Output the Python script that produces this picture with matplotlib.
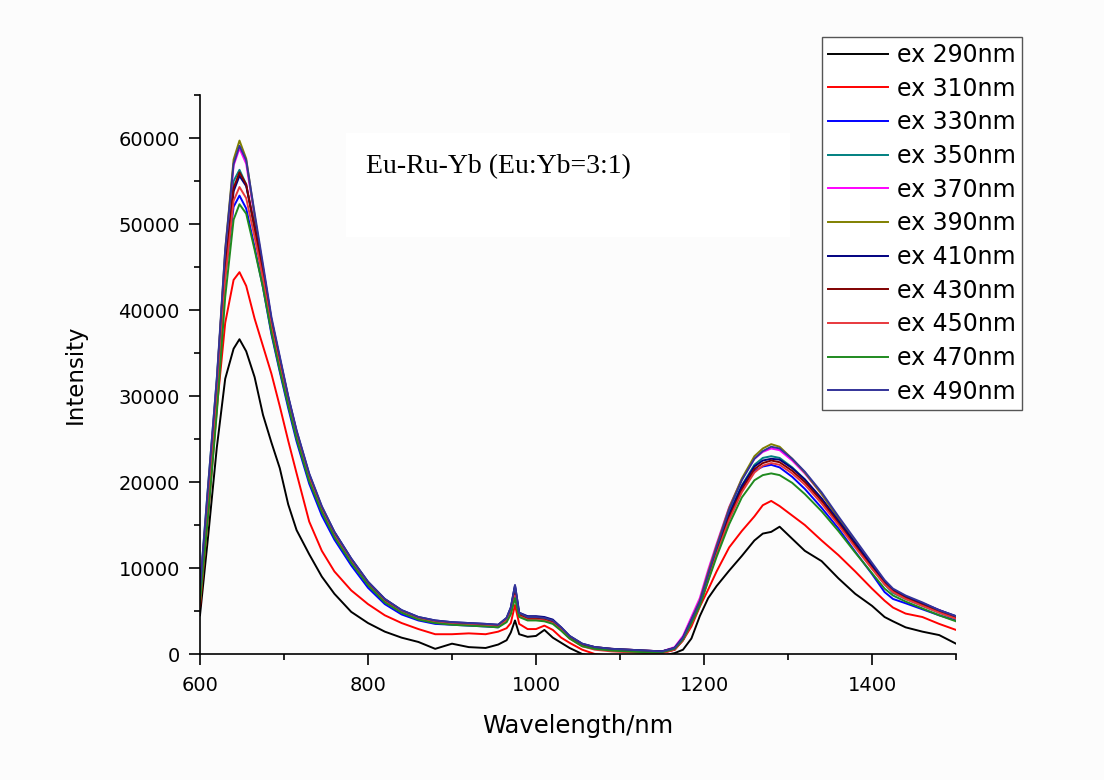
import matplotlib
matplotlib.use('Agg')
import matplotlib.pyplot as plt
import numpy as np
from matplotlib.ticker import MultipleLocator
from matplotlib.patches import Rectangle

# wavelength grid (nm)
wavelength = [600, 610, 620, 630, 640, 647, 655, 665, 675, 685,
              695, 705, 715, 730, 745, 760, 780, 800, 820, 840,
              860, 880, 900, 920, 940, 955, 965, 970, 975, 980,
              990, 1000, 1010, 1020, 1030, 1040, 1055, 1070, 1090, 1110,
              1130, 1150, 1165, 1175, 1185, 1195, 1205, 1215, 1230, 1245,
              1260, 1270, 1280, 1290, 1305, 1320, 1340, 1360, 1380, 1400,
              1415, 1425, 1440, 1460, 1480, 1500]

# intensities, in thousands
ex290 = [4.5, 14.0, 24.0, 32.0, 35.5, 36.6, 35.2, 32.2, 27.8, 24.6,
         21.6, 17.4, 14.4, 11.6, 9.0, 7.0, 4.9, 3.6, 2.6, 1.9,
         1.4, 0.6, 1.2, 0.8, 0.7, 1.1, 1.6, 2.5, 3.9, 2.3,
         2.0, 2.1, 2.8, 1.9, 1.3, 0.7, 0.0, -0.3, -0.3, -0.3,
         -0.3, -0.2, 0.1, 0.5, 1.8, 4.4, 6.5, 7.9, 9.7, 11.4,
         13.2, 14.0, 14.2, 14.8, 13.4, 12.0, 10.8, 8.8, 7.0, 5.6,
         4.3, 3.8, 3.1, 2.6, 2.2, 1.2]
ex310 = [5.5, 16.5, 28.5, 38.5, 43.5, 44.4, 42.8, 39.0, 35.8, 32.6,
         28.8, 24.8, 21.0, 15.4, 12.0, 9.6, 7.4, 5.8, 4.5, 3.6,
         2.9, 2.3, 2.3, 2.4, 2.3, 2.6, 3.0, 3.6, 5.7, 3.5,
         2.9, 2.9, 3.3, 2.8, 1.9, 1.3, 0.5, 0.0, -0.2, -0.2,
         -0.1, 0.1, 0.5, 1.6, 3.2, 5.5, 7.5, 9.6, 12.4, 14.3,
         16.0, 17.3, 17.8, 17.2, 16.1, 15.0, 13.2, 11.5, 9.6, 7.6,
         6.2, 5.4, 4.7, 4.3, 3.5, 2.8]
ex330 = [7.5, 19.0, 31.0, 44.0, 52.0, 53.3, 51.8, 47.3, 42.6, 37.2,
         32.8, 28.6, 24.7, 19.8, 16.1, 13.3, 10.3, 7.7, 5.8, 4.6,
         3.9, 3.5, 3.4, 3.3, 3.2, 3.1, 3.9, 5.2, 7.8, 4.5,
         4.1, 4.1, 4.0, 3.7, 2.9, 1.9, 1.0, 0.7, 0.5, 0.4,
         0.3, 0.3, 0.7, 1.9, 3.9, 6.0, 9.1, 12.1, 16.2, 19.3,
         21.3, 21.8, 22.0, 21.7, 20.6, 19.2, 17.0, 14.6, 11.9, 9.3,
         7.2, 6.4, 5.9, 5.2, 4.5, 3.9]
ex350 = [7.8, 20.0, 32.0, 46.0, 55.0, 56.3, 54.6, 49.3, 43.8, 38.2,
         33.6, 29.2, 25.3, 20.4, 16.7, 13.8, 10.8, 8.1, 6.1, 4.9,
         4.1, 3.7, 3.5, 3.4, 3.3, 3.2, 3.9, 4.9, 7.2, 4.5,
         4.1, 4.1, 4.0, 3.7, 2.9, 1.9, 1.0, 0.7, 0.5, 0.4,
         0.3, 0.3, 0.7, 1.9, 3.9, 6.0, 9.2, 12.2, 16.4, 19.6,
         22.0, 22.8, 23.0, 22.8, 21.7, 20.3, 18.0, 15.3, 12.6, 10.0,
         8.1, 7.1, 6.4, 5.6, 4.8, 4.1]
ex370 = [7.2, 19.5, 31.5, 46.5, 56.8, 58.8, 57.0, 50.8, 45.0, 38.9,
         34.3, 29.8, 25.8, 20.8, 17.0, 14.1, 11.0, 8.3, 6.3, 5.0,
         4.2, 3.8, 3.6, 3.5, 3.4, 3.3, 4.0, 5.0, 7.2, 4.6,
         4.2, 4.2, 4.1, 3.8, 3.0, 2.0, 1.1, 0.8, 0.6, 0.5,
         0.4, 0.3, 0.8, 2.1, 4.3, 6.5, 9.8, 12.8, 17.1, 20.3,
         22.7, 23.5, 23.9, 23.7, 22.5, 21.0, 18.6, 15.8, 13.0, 10.4,
         8.5, 7.5, 6.7, 5.9, 5.1, 4.3]
ex390 = [7.0, 19.5, 31.5, 47.0, 57.5, 59.7, 57.6, 51.0, 44.8, 38.6,
         34.0, 29.6, 25.6, 20.6, 16.9, 14.0, 10.9, 8.2, 6.2, 5.0,
         4.2, 3.8, 3.6, 3.5, 3.4, 3.3, 4.0, 5.0, 7.4, 4.6,
         4.2, 4.2, 4.1, 3.8, 3.0, 2.0, 1.1, 0.8, 0.6, 0.5,
         0.4, 0.3, 0.7, 1.9, 4.0, 6.2, 9.5, 12.6, 17.0, 20.4,
         23.0, 23.9, 24.4, 24.1, 22.7, 21.1, 18.6, 15.8, 13.0, 10.3,
         8.4, 7.4, 6.6, 5.8, 5.0, 4.3]
ex410 = [6.8, 19.0, 30.5, 44.5, 53.8, 55.6, 54.4, 49.8, 44.8, 38.9,
         34.4, 29.9, 25.9, 20.9, 17.1, 14.2, 11.1, 8.4, 6.4, 5.1,
         4.3, 3.9, 3.7, 3.6, 3.5, 3.4, 4.2, 5.4, 8.0, 4.8,
         4.4, 4.4, 4.3, 4.0, 3.1, 2.1, 1.2, 0.8, 0.6, 0.5,
         0.4, 0.3, 0.7, 1.9, 3.9, 5.9, 9.0, 12.0, 16.2, 19.5,
         21.8, 22.5, 22.7, 22.6, 21.6, 20.3, 18.1, 15.5, 12.9, 10.3,
         8.4, 7.5, 6.7, 5.9, 5.1, 4.4]
ex430 = [6.5, 18.5, 30.0, 44.5, 54.2, 56.0, 54.6, 49.6, 44.4, 38.6,
         34.0, 29.6, 25.6, 20.6, 16.9, 14.0, 10.9, 8.2, 6.2, 5.0,
         4.2, 3.8, 3.6, 3.5, 3.4, 3.3, 4.0, 5.0, 7.0, 4.5,
         4.1, 4.1, 4.0, 3.7, 2.9, 1.9, 1.0, 0.6, 0.4, 0.3,
         0.2, 0.2, 0.5, 1.6, 3.6, 5.7, 8.8, 11.8, 15.9, 19.1,
         21.5, 22.2, 22.5, 22.3, 21.3, 20.0, 17.8, 15.2, 12.6, 10.0,
         8.2, 7.3, 6.5, 5.7, 4.9, 4.2]
ex450 = [6.2, 18.0, 29.5, 43.5, 52.7, 54.3, 53.0, 48.5, 43.6, 38.0,
         33.5, 29.2, 25.3, 20.4, 16.7, 13.8, 10.8, 8.1, 6.1, 4.9,
         4.1, 3.7, 3.5, 3.4, 3.3, 3.2, 3.9, 4.8, 6.8, 4.4,
         4.0, 4.0, 3.9, 3.6, 2.8, 1.8, 0.9, 0.5, 0.3, 0.2,
         0.1, 0.1, 0.5, 1.6, 3.5, 5.6, 8.6, 11.6, 15.6, 18.8,
         21.1, 21.9, 22.2, 22.0, 21.0, 19.7, 17.5, 15.0, 12.4, 9.9,
         8.1, 7.2, 6.4, 5.6, 4.8, 4.1]
ex470 = [6.0, 16.5, 28.0, 41.5, 50.5, 52.3, 51.2, 47.0, 42.6, 37.4,
         33.0, 28.9, 25.0, 20.1, 16.5, 13.6, 10.6, 8.0, 6.0, 4.8,
         4.0, 3.6, 3.4, 3.3, 3.2, 3.1, 3.7, 4.6, 6.5, 4.3,
         3.9, 3.9, 3.8, 3.5, 2.7, 1.8, 0.9, 0.6, 0.4, 0.3,
         0.2, 0.2, 0.6, 1.7, 3.6, 5.6, 8.5, 11.3, 15.1, 18.2,
         20.2, 20.8, 21.0, 20.8, 19.9, 18.6, 16.6, 14.3, 11.8, 9.4,
         7.6, 6.8, 6.1, 5.3, 4.5, 3.8]
ex490 = [7.5, 20.0, 32.0, 47.0, 57.0, 59.1, 57.4, 51.3, 45.3, 39.2,
         34.6, 30.0, 26.0, 21.0, 17.2, 14.2, 11.1, 8.4, 6.4, 5.1,
         4.3, 3.9, 3.7, 3.6, 3.5, 3.4, 4.2, 5.4, 8.0, 4.8,
         4.3, 4.3, 4.2, 3.9, 3.1, 2.1, 1.2, 0.8, 0.6, 0.5,
         0.4, 0.3, 0.7, 1.9, 4.0, 6.1, 9.3, 12.4, 16.8, 20.2,
         22.7, 23.6, 24.1, 23.9, 22.7, 21.2, 18.8, 16.0, 13.3, 10.6,
         8.6, 7.6, 6.8, 6.0, 5.1, 4.4]

labels = ['ex 290nm', 'ex 310nm', 'ex 330nm', 'ex 350nm', 'ex 370nm', 'ex 390nm',
          'ex 410nm', 'ex 430nm', 'ex 450nm', 'ex 470nm', 'ex 490nm']
series = [ex290, ex310, ex330, ex350, ex370, ex390, ex410, ex430, ex450, ex470, ex490]
colors = ['#000000', '#ff0000', '#0000ff', '#008080', '#ff00ff', '#808000',
          '#000080', '#800000', '#e8383d', '#1f8a1f', '#333399']

bg = '#fcfcfc'
fig = plt.figure(figsize=(11.04, 7.8), dpi=100, facecolor=bg)
ax = fig.add_axes([200/1104, 126/780, 756/1104, 559/780])
ax.set_facecolor('none')

# white box behind the annotation
fig.patches.append(Rectangle((346/1104, 1 - 237/780), 444/1104, 104/780,
                             transform=fig.transFigure, facecolor='white',
                             edgecolor='none', zorder=0))
fig.text(366/1104, 1 - 167/780, 'Eu-Ru-Yb (Eu:Yb=3:1)', family='Liberation Serif',
         fontsize=20, va='center', ha='left')

x = np.array(wavelength)
for ys, c, lab in zip(series, colors, labels):
    ax.plot(x, np.array(ys) * 1000, color=c, lw=1.4, label=lab)

ax.set_xlim(600, 1500)
ax.xaxis.set_major_locator(MultipleLocator(200))
ax.xaxis.set_minor_locator(MultipleLocator(100))
ax.yaxis.set_minor_locator(MultipleLocator(5000))
ax.set_yticks(range(0, 60001, 10000))
ax.set_ylim(0, 65000)

for s in ['top', 'right']:
    ax.spines[s].set_visible(False)
for s in ['left', 'bottom']:
    ax.spines[s].set_linewidth(1.2)
ax.tick_params(which='major', direction='out', length=8, width=1.2, labelsize=14)
ax.tick_params(axis='y', which='major', pad=6.5)
ax.tick_params(axis='x', which='major', pad=7.5)
ax.tick_params(which='minor', direction='out', length=4.5, width=1.2)

ax.set_xlabel('Wavelength/nm', fontsize=17.5, labelpad=14)
ax.set_ylabel('Intensity', fontsize=16.5, labelpad=23)

leg = fig.legend(loc='upper right', bbox_to_anchor=(1022/1104, 1 - 37/780),
                 fontsize=17, handlelength=2.55, handletextpad=0.38,
                 labelspacing=0.41, borderpad=0.25, borderaxespad=0,
                 fancybox=False, framealpha=1, edgecolor='#555555')
leg.get_frame().set_linewidth(1.0)

fig.savefig('out.png', dpi=100, facecolor=bg)
